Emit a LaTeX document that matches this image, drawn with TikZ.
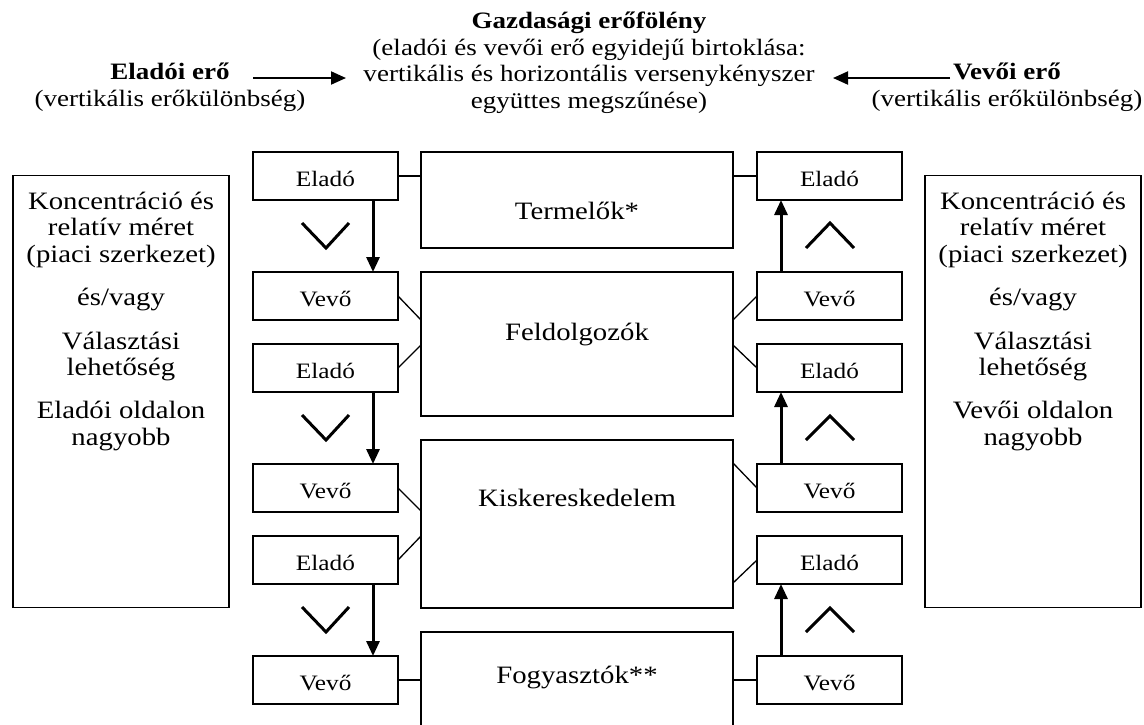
\documentclass[tikz,border=0pt]{standalone}
\usepackage{fontspec}
\setmainfont[FakeStretch=1.15]{Liberation Serif}
\usetikzlibrary{arrows.meta,calc}
\begin{document}
\begin{tikzpicture}[x=1pt,y=-1pt,
  sbox/.style={draw,line width=1.8pt,minimum width=145pt,minimum height=48pt,inner sep=0pt,outer sep=0pt,font=\fontsize{22}{25}\selectfont,text height=20pt,text depth=0pt},
  bigbox/.style={draw,line width=1.8pt,inner sep=0pt,outer sep=0pt},
  lbl/.style={inner sep=0pt,font=\fontsize{25}{26.5}\selectfont,anchor=base},
  toplbl/.style={inner sep=0pt,font=\fontsize{23.5}{26.5}\selectfont,anchor=base,align=center},
  conn/.style={line width=1.3pt},
  flow/.style={line width=3pt,-{Triangle[width=13pt,length=15pt]}},
  chev/.style={line width=3pt},
  toparrow/.style={line width=2pt,-{Triangle[width=13pt,length=15pt]}}
]
\clip (0,0) rectangle (1144,724);

% top texts (anchor base = baseline of the last line)
\node[toplbl] (gazd) at (589,108) {\textbf{Gazdasági erőfölény}\\(eladói és vevői erő egyidejű birtoklása:\\vertikális és horizontális versenykényszer\\együttes megszűnése)};
\node[toplbl] (ei) at (170,106) {\textbf{Eladói erő}\\(vertikális erőkülönbség)};
\node[toplbl] (vi) at (1007,106) {\textbf{Vevői erő}\\(vertikális erőkülönbség)};
\coordinate (eiA) at (253,78);
\coordinate (gzL) at (346,78);
\coordinate (viA) at (950,78);
\coordinate (gzR) at (833,78);
\draw[toparrow] (eiA) -- (gzL);
\draw[toparrow] (viA) -- (gzR);

% side boxes
\node[bigbox,minimum width=216pt,minimum height=432pt] (lbox) at (121,391.5) {};
\node[bigbox,minimum width=216pt,minimum height=432pt] (rbox) at (1033,391.5) {};
\node[lbl,align=center] (ltxt) at ($(lbox.north)+(0,269.5)$) {Koncentráció és\\relatív méret\\(piaci szerkezet)\\[16.5pt]és/vagy\\[17.5pt]Választási\\lehetőség\\[16.5pt]Eladói oldalon\\nagyobb};
\node[lbl,align=center] (rtxt) at ($(rbox.north)+(0,269.5)$) {Koncentráció és\\relatív méret\\(piaci szerkezet)\\[16.5pt]és/vagy\\[17.5pt]Választási\\lehetőség\\[16.5pt]Vevői oldalon\\nagyobb};

% center boxes
\node[bigbox,minimum width=312pt,minimum height=96pt] (term) at (577,200) {};
\node[bigbox,minimum width=312pt,minimum height=144pt] (feld) at (577,344) {};
\node[bigbox,minimum width=312pt,minimum height=168pt] (kisk) at (577,524) {};
\node[bigbox,minimum width=312pt,minimum height=100pt] (fogy) at (577,682) {};
\node[lbl] (termT) at ($(term.north)+(0,67)$) {Termelők*};
\node[lbl] (feldT) at ($(feld.north)+(0,68)$) {Feldolgozók};
\node[lbl] (kiskT) at ($(kisk.north)+(0,66)$) {Kiskereskedelem};
\node[lbl] (fogyT) at ($(fogy.north)+(0,51)$) {Fogyasztók**};

% small boxes left
\node[sbox] (eL1) at (325.5,176) {Eladó};
\node[sbox] (vL2) at (325.5,296) {Vevő};
\node[sbox] (eL3) at (325.5,368) {Eladó};
\node[sbox] (vL4) at (325.5,488) {Vevő};
\node[sbox] (eL5) at (325.5,560) {Eladó};
\node[sbox] (vL6) at (325.5,680) {Vevő};
% small boxes right
\node[sbox] (eR1) at (829.5,176) {Eladó};
\node[sbox] (vR2) at (829.5,296) {Vevő};
\node[sbox] (eR3) at (829.5,368) {Eladó};
\node[sbox] (vR4) at (829.5,488) {Vevő};
\node[sbox] (eR5) at (829.5,560) {Eladó};
\node[sbox] (vR6) at (829.5,680) {Vevő};

% thin connectors
\draw[conn] (eL1.east) -- (eL1.east -| term.west);
\draw[conn] (vL2.east) -- ($(feld.north west)+(0,48)$);
\draw[conn] (eL3.east) -- ($(feld.north west)+(0,73)$);
\draw[conn] (vL4.east) -- ($(kisk.north west)+(0,71)$);
\draw[conn] (eL5.east) -- ($(kisk.north west)+(0,96)$);
\draw[conn] (vL6.east) -- (vL6.east -| fogy.west);
\draw[conn] (eR1.west) -- (eR1.west -| term.east);
\draw[conn] (vR2.west) -- ($(feld.north east)+(0,48)$);
\draw[conn] (eR3.west) -- ($(feld.north east)+(0,73)$);
\draw[conn] (vR4.west) -- ($(kisk.north east)+(0,23)$);
\draw[conn] (eR5.west) -- ($(kisk.north east)+(0,143)$);
\draw[conn] (vR6.west) -- (vR6.west -| fogy.east);

% flow arrows
\draw[flow] ([xshift=47.5pt]eL1.south) -- ([xshift=47.5pt]vL2.north);
\draw[flow] ([xshift=47.5pt]eL3.south) -- ([xshift=47.5pt]vL4.north);
\draw[flow] ([xshift=47.5pt]eL5.south) -- ([xshift=47.5pt]vL6.north);
\draw[flow] ([xshift=-48.5pt]vR2.north) -- ([xshift=-48.5pt]eR1.south);
\draw[flow] ([xshift=-48.5pt]vR4.north) -- ([xshift=-48.5pt]eR3.south);
\draw[flow] ([xshift=-48.5pt]vR6.north) -- ([xshift=-48.5pt]eR5.south);

% chevrons
\draw[chev] (302,223) -- (326,248) -- (349,223);
\draw[chev] (302,415) -- (326,440) -- (349,415);
\draw[chev] (302,607) -- (326,632) -- (349,607);
\draw[chev] (806,248) -- (830,223) -- (854,248);
\draw[chev] (806,440) -- (830,416) -- (854,440);
\draw[chev] (806,632) -- (830,608) -- (854,632);
\end{tikzpicture}
\end{document}
